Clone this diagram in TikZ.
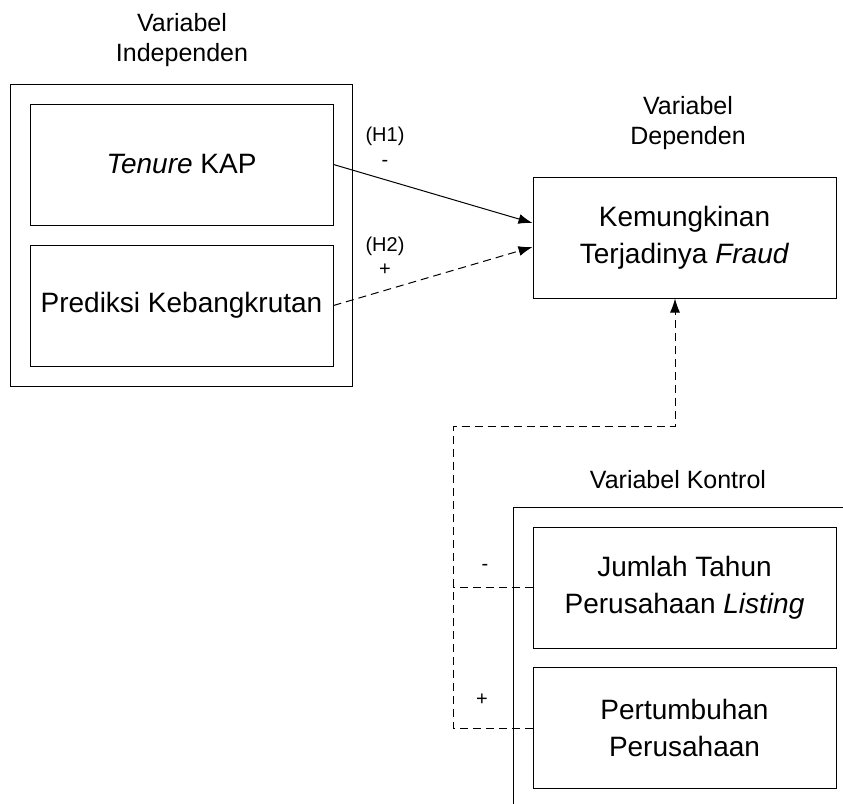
\documentclass[tikz,border=0pt]{standalone}
\usepackage{fontspec}
\setmainfont{Liberation Sans}
\usetikzlibrary{arrows.meta}

\tikzset{
  kotak/.style={draw, line width=1pt, inner sep=0pt, minimum width=303pt,
    minimum height=121pt, align=center, font=\fontsize{28}{37}\selectfont},
  judul/.style={align=center, font=\fontsize{25}{30}\selectfont},
  tanda/.style={font=\fontsize{20}{25}\selectfont},
  putus/.style={dash pattern=on 8pt off 5pt},
}

\begin{document}
\begin{tikzpicture}[x=1pt, y=-1pt, line width=1pt, >={Latex[length=14pt,width=10pt]}]
\fill [white] (0,0) rectangle (843,803);
\clip (0,0) rectangle (843,803);
% kelompok variabel
\node [draw, inner sep=0pt, minimum width=342pt, minimum height=302pt] (indep) at (181,235) {};
\draw (513,830) |- (870,507);
% judul
\node [judul] (jIndep) at (182,40) {Variabel\\Independen};
\node [judul] (jDep) at (688,123) {Variabel\\Dependen};
\node [judul] (jKontrol) at (678,480) {Variabel Kontrol};
% kotak
\node [kotak] (tenure) at (181.5,164.5) {\textit{Tenure} KAP};
\node [kotak] (prediksi) at (181.5,305.5) {Prediksi Kebangkrutan};
\node [kotak] (dep) at (684.5,237.5) {Kemungkinan\\Terjadinya \textit{Fraud}};
\node [kotak] (jumlah) at (684.5,587.5) {Jumlah Tahun\\Perusahaan \textit{Listing}};
\node [kotak] (tumbuh) at (684.5,728) {Pertumbuhan\\Perusahaan};
% panah
\draw [->] (tenure.east) -- ([yshift=14.5pt]dep.west);
\draw [->, putus] (prediksi.east) -- ([yshift=-9.5pt]dep.west);
\coordinate (kiri) at (453,426);
\coordinate (naik) at (675,426);
\draw [->, putus] (tumbuh.west) -| (kiri) -- (naik) -- (naik |- dep.south);
\draw [putus] (jumlah.west) -- (jumlah.west -| kiri);
% tanda
\node [tanda] (h1) at (385,136) {(H1)};
\node [tanda] (h1t) at (385,163) {-};
\node [tanda] (h2) at (385,246) {(H2)};
\node [tanda] (h2t) at (385,270) {+};
\node [tanda] (k1) at (485,567) {-};
\node [tanda] (k2) at (482,700) {+};
\end{tikzpicture}
\end{document}
